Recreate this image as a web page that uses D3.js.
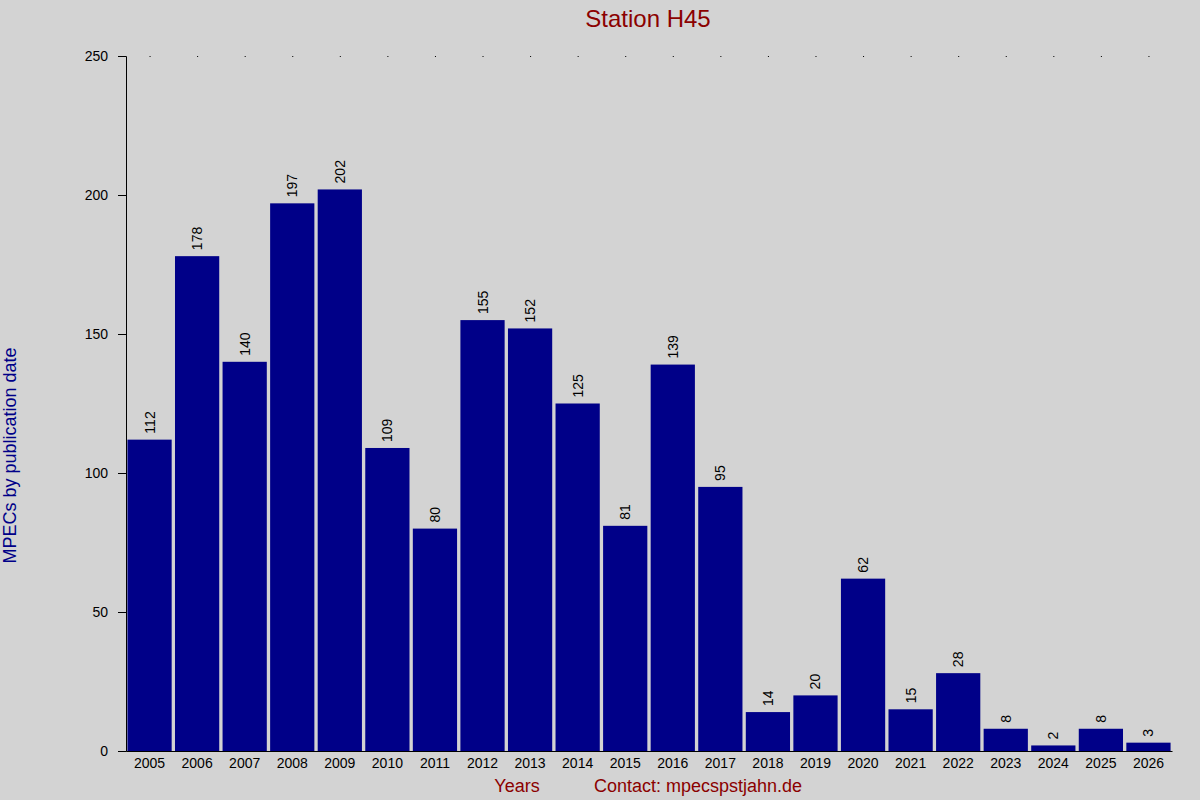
<!DOCTYPE html>
<meta charset="utf-8">
<script src="https://d3js.org/d3.v7.min.js"></script>
<style>
  body { margin: 0; background: #d3d3d3; }
  text { font-family: "Liberation Sans", Arial, sans-serif; }
</style>
<div id="chart"></div>
<script>
// data
var years = ["2005","2006","2007","2008","2009","2010","2011","2012","2013","2014","2015",
             "2016","2017","2018","2019","2020","2021","2022","2023","2024","2025","2026"];
var counts = [112,178,140,197,202,109,80,155,152,125,81,139,95,14,20,62,15,28,8,2,8,3];
var yTicks = [0,50,100,150,200,250];

var W = 1200, H = 800;
var margin = {top: 56, right: 28, bottom: 49, left: 126},
    width = W - margin.left - margin.right,
    height = H - margin.top - margin.bottom;

var svg = d3.select("#chart").append("svg")
    .attr("width", W).attr("height", H)
    .style("background", "#d3d3d3");
var g = svg.append("g")
    .attr("transform", "translate(" + margin.left + "," + margin.top + ")");

var x = d3.scaleBand().domain(years).range([0, width]).paddingInner(0.07).paddingOuter(0.03);
var y = d3.scaleLinear().domain([0, 250]).range([height, 0]);

// bars
g.selectAll("rect.bar")
  .data(counts)
  .enter().append("rect")
    .attr("class", "bar")
    .attr("x", function(d, i) { return x(years[i]); })
    .attr("y", function(d) { return y(d); })
    .attr("width", x.bandwidth())
    .attr("height", function(d) { return height - y(d); })
    .attr("fill", "#000088");

// value labels, rotated
g.selectAll("text.val")
  .data(counts)
  .enter().append("text")
    .attr("class", "val")
    .attr("transform", function(d, i) {
      return "translate(" + (x(years[i]) + x.bandwidth() / 2 + 5) + "," + (y(d) - 6) + ") rotate(-90)";
    })
    .attr("font-size", 14)
    .attr("fill", "#000")
    .text(function(d) { return d; });

// dotted marks at the top
g.selectAll("circle.dot")
  .data(years)
  .enter().append("rect")
    .attr("x", function(d) { return x(d) + x.bandwidth() / 2; })
    .attr("y", 0).attr("width", 1).attr("height", 1)
    .attr("fill", "#000");

// y axis
var yAxis = g.append("g").call(d3.axisLeft(y).tickValues(yTicks).tickSize(8).tickPadding(10));
yAxis.select(".domain").attr("stroke", "#000");
yAxis.selectAll("text").attr("font-size", 14).attr("fill", "#000")
    .style("font-family", "'Liberation Sans', Arial, sans-serif");

// x axis
var xAxis = g.append("g").attr("transform", "translate(0," + height + ")")
    .call(d3.axisBottom(x).tickSize(0).tickPadding(7));
xAxis.select(".domain").attr("stroke", "#000");
xAxis.selectAll("text").attr("font-size", 14).attr("fill", "#000")
    .style("font-family", "'Liberation Sans', Arial, sans-serif");

// titles
svg.append("text").attr("x", 648).attr("y", 27).attr("text-anchor", "middle")
    .attr("font-size", 24).attr("fill", "#8b0000").text("Station H45");

svg.append("text")
    .attr("transform", "translate(16," + (margin.top + height / 2 + 52) + ") rotate(-90)")
    .attr("text-anchor", "middle").attr("font-size", 18).attr("fill", "#000088")
    .text("MPECs by publication date");

svg.append("text").attr("x", 517).attr("y", 792).attr("text-anchor", "middle")
    .attr("font-size", 18).attr("fill", "#8b0000").text("Years");
svg.append("text").attr("x", 698).attr("y", 792).attr("text-anchor", "middle")
    .attr("font-size", 18).attr("fill", "#8b0000").text("Contact: mpecspstjahn.de");
</script>
